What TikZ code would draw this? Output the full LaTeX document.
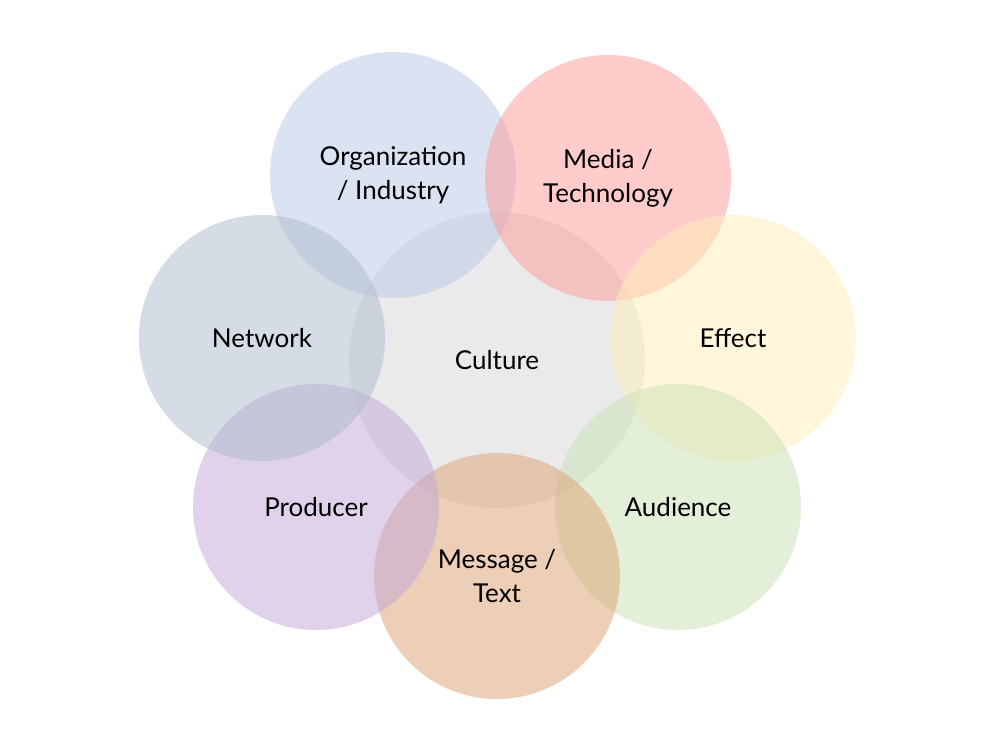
\documentclass[tikz,border=0pt]{standalone}
\usepackage{fontspec}
\setmainfont{Lato}
\definecolor{corg}{RGB}{185,199,229}
\definecolor{cmed}{RGB}{255,153,153}
\definecolor{ceff}{RGB}{255,239,185}
\definecolor{caud}{RGB}{201,225,181}
\definecolor{cmsg}{RGB}{221,161,113}
\definecolor{cpro}{RGB}{193,167,215}
\definecolor{cnet}{RGB}{173,187,205}
\definecolor{ccul}{RGB}{215,215,215}
\begin{document}
\begin{tikzpicture}[x=1pt,y=-1pt,
  blob/.style={circle,draw=none,inner sep=0pt,minimum size=246pt,fill opacity=0.5,text opacity=1,
    align=center,font=\fontsize{26}{34}\selectfont,text=black}]
\useasboundingbox[fill=white] (0,0) rectangle (1000,750);
\node[blob,fill=ccul,minimum size=296pt] (cul) at (497,360) {Culture};
\node[blob,fill=corg] (org) at (393,175) {Organization\\/ Industry};
\node[blob,fill=cmed] (med) at (608,178) {Media /\\Technology};
\node[blob,fill=ceff] (eff) at (733,338) {Effect};
\node[blob,fill=caud] (aud) at (678,507) {Audience};
\node[blob,fill=cmsg] (msg) at (497,576) {Message /\\Text};
\node[blob,fill=cpro] (pro) at (316,507) {Producer};
\node[blob,fill=cnet] (net) at (262,338) {Network};
\end{tikzpicture}
\end{document}
